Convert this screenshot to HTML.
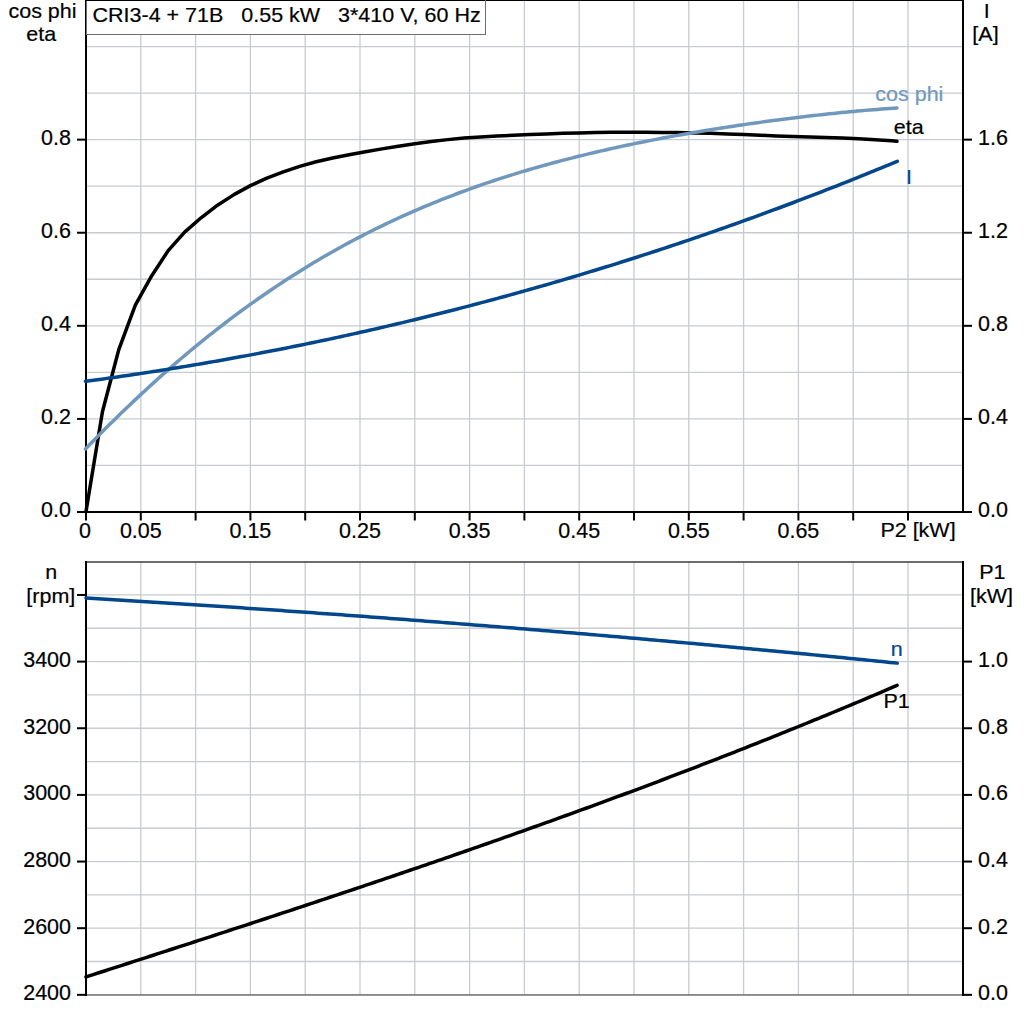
<!DOCTYPE html>
<html><head><meta charset="utf-8"><style>
html,body{margin:0;padding:0;background:#fff;width:1024px;height:1024px;overflow:hidden}
svg{display:block;font-family:"Liberation Sans",sans-serif}
</style></head><body>
<svg width="1024" height="1024" viewBox="0 0 1024 1024">
<rect x="0" y="0" width="1024" height="1024" fill="#fff"/>
<path d="M140.80 34V512 M195.60 34V512 M250.40 34V512 M305.20 34V512 M360.00 34V512 M414.80 34V512 M469.60 34V512 M524.40 0V512 M579.20 0V512 M634.00 0V512 M688.80 0V512 M743.60 0V512 M798.40 0V512 M853.20 0V512 M908.00 0V512 M86 465.45H963 M86 418.91H963 M86 372.37H963 M86 325.82H963 M86 279.27H963 M86 232.73H963 M86 186.19H963 M86 139.64H963 M86 93.09H963 M86 46.55H963 M140.80 562V995 M195.60 562V995 M250.40 562V995 M305.20 562V995 M360.00 562V995 M414.80 562V995 M469.60 562V995 M524.40 562V995 M579.20 562V995 M634.00 562V995 M688.80 562V995 M743.60 562V995 M798.40 562V995 M853.20 562V995 M908.00 562V995 M86 961.52H963 M86 928.20H963 M86 894.88H963 M86 861.55H963 M86 828.23H963 M86 794.90H963 M86 761.58H963 M86 728.25H963 M86 694.92H963 M86 661.60H963 M86 628.27H963 M86 594.95H963" stroke="#c8cbcf" stroke-width="1.3" fill="none"/>
<rect x="85" y="0" width="2" height="513" fill="#000"/>
<rect x="962" y="0" width="2" height="513" fill="#000"/>
<rect x="85" y="511" width="879" height="2" fill="#000"/>
<rect x="85" y="0" width="879" height="1" fill="#000"/>
<rect x="77" y="511.00" width="9" height="2" fill="#000"/><rect x="963" y="511.00" width="9" height="2" fill="#000"/><rect x="77" y="417.91" width="9" height="2" fill="#000"/><rect x="963" y="417.91" width="9" height="2" fill="#000"/><rect x="77" y="324.82" width="9" height="2" fill="#000"/><rect x="963" y="324.82" width="9" height="2" fill="#000"/><rect x="77" y="231.73" width="9" height="2" fill="#000"/><rect x="963" y="231.73" width="9" height="2" fill="#000"/><rect x="77" y="138.64" width="9" height="2" fill="#000"/><rect x="963" y="138.64" width="9" height="2" fill="#000"/><rect x="85.00" y="512" width="2" height="8.5" fill="#000"/><rect x="139.80" y="512" width="2" height="8.5" fill="#000"/><rect x="194.60" y="512" width="2" height="8.5" fill="#000"/><rect x="249.40" y="512" width="2" height="8.5" fill="#000"/><rect x="304.20" y="512" width="2" height="8.5" fill="#000"/><rect x="359.00" y="512" width="2" height="8.5" fill="#000"/><rect x="413.80" y="512" width="2" height="8.5" fill="#000"/><rect x="468.60" y="512" width="2" height="8.5" fill="#000"/><rect x="523.40" y="512" width="2" height="8.5" fill="#000"/><rect x="578.20" y="512" width="2" height="8.5" fill="#000"/><rect x="633.00" y="512" width="2" height="8.5" fill="#000"/><rect x="687.80" y="512" width="2" height="8.5" fill="#000"/><rect x="742.60" y="512" width="2" height="8.5" fill="#000"/><rect x="797.40" y="512" width="2" height="8.5" fill="#000"/><rect x="852.20" y="512" width="2" height="8.5" fill="#000"/><rect x="907.00" y="512" width="2" height="8.5" fill="#000"/>
<rect x="86.5" y="0.5" width="399" height="34" fill="#fff" stroke="#6e6e6e" stroke-width="1"/>
<rect x="85" y="0" width="400" height="1" fill="#000"/>
<rect x="85" y="561.2" width="879" height="1.6" fill="#4a4a4a"/>
<rect x="85" y="994.2" width="879" height="1.5" fill="#6c6c6c"/>
<rect x="85" y="561" width="2" height="435" fill="#000"/>
<rect x="962" y="561" width="2" height="435" fill="#000"/>
<rect x="77" y="993.85" width="9" height="2" fill="#000"/><rect x="77" y="927.20" width="9" height="2" fill="#000"/><rect x="77" y="860.55" width="9" height="2" fill="#000"/><rect x="77" y="793.90" width="9" height="2" fill="#000"/><rect x="77" y="727.25" width="9" height="2" fill="#000"/><rect x="77" y="660.60" width="9" height="2" fill="#000"/><rect x="77" y="593.95" width="9" height="2" fill="#000"/><rect x="963" y="993.85" width="9" height="2" fill="#000"/><rect x="963" y="927.20" width="9" height="2" fill="#000"/><rect x="963" y="860.55" width="9" height="2" fill="#000"/><rect x="963" y="793.90" width="9" height="2" fill="#000"/><rect x="963" y="727.25" width="9" height="2" fill="#000"/><rect x="963" y="660.60" width="9" height="2" fill="#000"/>
<polyline points="86.00,511.60 102.44,411.80 118.88,349.30 135.32,305.10 151.76,275.70 168.20,250.60 184.64,232.10 201.08,217.80 217.52,205.20 233.96,194.60 250.40,185.65 266.84,178.15 283.28,171.82 299.72,166.37 316.16,161.80 332.60,157.93 349.04,154.71 365.48,151.74 381.92,148.85 398.36,146.15 414.80,143.71 431.24,141.58 447.68,139.62 464.12,138.03 480.56,136.89 497.00,136.00 513.44,135.25 529.88,134.57 546.32,133.90 562.76,133.32 579.20,132.90 595.64,132.60 612.08,132.35 628.52,132.21 644.96,132.23 661.40,132.38 677.84,132.62 694.28,132.90 710.72,133.37 727.16,133.98 743.60,134.60 760.04,135.23 776.48,135.89 792.92,136.52 809.36,137.00 825.80,137.48 842.24,138.04 858.68,138.75 875.12,139.70 891.56,140.87 897.00,141.30" fill="none" stroke="#000" stroke-width="3.5" stroke-linejoin="round" stroke-linecap="round"/>
<polyline points="85.50,448.91 89.50,444.78 93.50,440.68 97.50,436.62 101.50,432.58 105.50,428.57 109.50,424.59 113.50,420.64 117.50,416.73 121.50,412.84 125.50,408.98 129.50,405.16 133.50,401.36 137.50,397.60 141.50,393.87 145.50,390.17 149.50,386.50 153.50,382.86 157.50,379.25 161.50,375.67 165.50,372.13 169.50,368.62 173.50,365.13 177.50,361.68 181.50,358.27 185.50,354.88 189.50,351.52 193.50,348.20 197.50,344.90 201.50,341.64 205.50,338.41 209.50,335.22 213.50,332.05 217.50,328.91 221.50,325.81 225.50,322.74 229.50,319.69 233.50,316.68 237.50,313.70 241.50,310.75 245.50,307.84 249.50,304.95 253.50,302.09 257.50,299.27 261.50,296.47 265.50,293.71 269.50,290.97 273.50,288.27 277.50,285.59 281.50,282.95 285.50,280.33 289.50,277.75 293.50,275.19 297.50,272.67 301.50,270.17 305.50,267.70 309.50,265.26 313.50,262.85 317.50,260.47 321.50,258.11 325.50,255.79 329.50,253.49 333.50,251.22 337.50,248.98 341.50,246.76 345.50,244.58 349.50,242.41 353.50,240.28 357.50,238.17 361.50,236.09 365.50,234.04 369.50,232.01 373.50,230.01 377.50,228.03 381.50,226.08 385.50,224.15 389.50,222.25 393.50,220.37 397.50,218.52 401.50,216.69 405.50,214.89 409.50,213.11 413.50,211.35 417.50,209.62 421.50,207.90 425.50,206.22 429.50,204.55 433.50,202.91 437.50,201.29 441.50,199.69 445.50,198.11 449.50,196.55 453.50,195.02 457.50,193.51 461.50,192.01 465.50,190.54 469.50,189.09 473.50,187.65 477.50,186.24 481.50,184.85 485.50,183.47 489.50,182.12 493.50,180.78 497.50,179.46 501.50,178.16 505.50,176.88 509.50,175.61 513.50,174.36 517.50,173.13 521.50,171.92 525.50,170.72 529.50,169.54 533.50,168.38 537.50,167.23 541.50,166.10 545.50,164.98 549.50,163.88 553.50,162.79 557.50,161.72 561.50,160.66 565.50,159.62 569.50,158.59 573.50,157.58 577.50,156.57 581.50,155.59 585.50,154.61 589.50,153.65 593.50,152.70 597.50,151.77 601.50,150.84 605.50,149.93 609.50,149.03 613.50,148.14 617.50,147.27 621.50,146.40 625.50,145.55 629.50,144.70 633.50,143.87 637.50,143.05 641.50,142.24 645.50,141.44 649.50,140.65 653.50,139.87 657.50,139.10 661.50,138.34 665.50,137.59 669.50,136.85 673.50,136.11 677.50,135.39 681.50,134.68 685.50,133.97 689.50,133.27 693.50,132.58 697.50,131.90 701.50,131.23 705.50,130.57 709.50,129.92 713.50,129.27 717.50,128.63 721.50,128.00 725.50,127.37 729.50,126.76 733.50,126.15 737.50,125.55 741.50,124.96 745.50,124.37 749.50,123.80 753.50,123.23 757.50,122.66 761.50,122.11 765.50,121.56 769.50,121.02 773.50,120.49 777.50,119.96 781.50,119.44 785.50,118.93 789.50,118.43 793.50,117.93 797.50,117.44 801.50,116.96 805.50,116.49 809.50,116.02 813.50,115.57 817.50,115.12 821.50,114.67 825.50,114.24 829.50,113.81 833.50,113.40 837.50,112.99 841.50,112.59 845.50,112.19 849.50,111.81 853.50,111.44 857.50,111.07 861.50,110.71 865.50,110.37 869.50,110.03 873.50,109.70 877.50,109.39 881.50,109.08 885.50,108.78 889.50,108.49 893.50,108.22 897.00,107.99" fill="none" stroke="#7098bd" stroke-width="3.5" stroke-linejoin="round" stroke-linecap="round"/>
<polyline points="85.50,381.34 89.50,380.80 93.50,380.26 97.50,379.71 101.50,379.16 105.50,378.61 109.50,378.04 113.50,377.48 117.50,376.90 121.50,376.33 125.50,375.74 129.50,375.16 133.50,374.56 137.50,373.97 141.50,373.36 145.50,372.75 149.50,372.14 153.50,371.52 157.50,370.90 161.50,370.27 165.50,369.63 169.50,369.00 173.50,368.35 177.50,367.70 181.50,367.05 185.50,366.38 189.50,365.72 193.50,365.05 197.50,364.37 201.50,363.69 205.50,363.00 209.50,362.31 213.50,361.62 217.50,360.91 221.50,360.20 225.50,359.49 229.50,358.77 233.50,358.05 237.50,357.32 241.50,356.59 245.50,355.85 249.50,355.10 253.50,354.35 257.50,353.60 261.50,352.84 265.50,352.07 269.50,351.30 273.50,350.52 277.50,349.74 281.50,348.95 285.50,348.16 289.50,347.36 293.50,346.56 297.50,345.75 301.50,344.94 305.50,344.12 309.50,343.29 313.50,342.46 317.50,341.63 321.50,340.79 325.50,339.94 329.50,339.09 333.50,338.23 337.50,337.37 341.50,336.50 345.50,335.63 349.50,334.75 353.50,333.86 357.50,332.97 361.50,332.08 365.50,331.18 369.50,330.27 373.50,329.36 377.50,328.45 381.50,327.52 385.50,326.60 389.50,325.66 393.50,324.72 397.50,323.78 401.50,322.83 405.50,321.87 409.50,320.91 413.50,319.95 417.50,318.98 421.50,318.00 425.50,317.02 429.50,316.03 433.50,315.04 437.50,314.04 441.50,313.03 445.50,312.02 449.50,311.01 453.50,309.99 457.50,308.96 461.50,307.93 465.50,306.89 469.50,305.85 473.50,304.80 477.50,303.74 481.50,302.68 485.50,301.62 489.50,300.55 493.50,299.47 497.50,298.39 501.50,297.30 505.50,296.21 509.50,295.11 513.50,294.00 517.50,292.89 521.50,291.78 525.50,290.65 529.50,289.53 533.50,288.39 537.50,287.26 541.50,286.11 545.50,284.96 549.50,283.81 553.50,282.65 557.50,281.48 561.50,280.31 565.50,279.13 569.50,277.95 573.50,276.76 577.50,275.56 581.50,274.36 585.50,273.16 589.50,271.94 593.50,270.73 597.50,269.50 601.50,268.27 605.50,267.04 609.50,265.80 613.50,264.55 617.50,263.30 621.50,262.04 625.50,260.78 629.50,259.51 633.50,258.24 637.50,256.96 641.50,255.67 645.50,254.38 649.50,253.08 653.50,251.78 657.50,250.47 661.50,249.15 665.50,247.83 669.50,246.51 673.50,245.17 677.50,243.84 681.50,242.49 685.50,241.14 689.50,239.79 693.50,238.43 697.50,237.06 701.50,235.69 705.50,234.31 709.50,232.92 713.50,231.53 717.50,230.14 721.50,228.73 725.50,227.33 729.50,225.91 733.50,224.49 737.50,223.07 741.50,221.64 745.50,220.20 749.50,218.76 753.50,217.31 757.50,215.85 761.50,214.39 765.50,212.93 769.50,211.45 773.50,209.97 777.50,208.49 781.50,207.00 785.50,205.50 789.50,204.00 793.50,202.50 797.50,200.98 801.50,199.46 805.50,197.94 809.50,196.40 813.50,194.87 817.50,193.32 821.50,191.77 825.50,190.22 829.50,188.66 833.50,187.09 837.50,185.52 841.50,183.94 845.50,182.35 849.50,180.76 853.50,179.17 857.50,177.56 861.50,175.95 865.50,174.34 869.50,172.72 873.50,171.09 877.50,169.46 881.50,167.82 885.50,166.17 889.50,164.52 893.50,162.87 897.30,161.29" fill="none" stroke="#02468c" stroke-width="3.5" stroke-linejoin="round" stroke-linecap="round"/>
<polyline points="86.00,598.00 90.00,598.24 94.00,598.48 98.00,598.72 102.00,598.96 106.00,599.20 110.00,599.44 114.00,599.68 118.00,599.93 122.00,600.17 126.00,600.41 130.00,600.66 134.00,600.91 138.00,601.15 142.00,601.40 146.00,601.65 150.00,601.90 154.00,602.15 158.00,602.40 162.00,602.65 166.00,602.91 170.00,603.16 174.00,603.42 178.00,603.67 182.00,603.93 186.00,604.19 190.00,604.44 194.00,604.70 198.00,604.96 202.00,605.22 206.00,605.48 210.00,605.75 214.00,606.01 218.00,606.27 222.00,606.54 226.00,606.80 230.00,607.07 234.00,607.34 238.00,607.61 242.00,607.87 246.00,608.14 250.00,608.42 254.00,608.69 258.00,608.96 262.00,609.23 266.00,609.51 270.00,609.78 274.00,610.06 278.00,610.33 282.00,610.61 286.00,610.89 290.00,611.17 294.00,611.45 298.00,611.73 302.00,612.01 306.00,612.29 310.00,612.57 314.00,612.86 318.00,613.14 322.00,613.43 326.00,613.71 330.00,614.00 334.00,614.29 338.00,614.58 342.00,614.87 346.00,615.16 350.00,615.45 354.00,615.74 358.00,616.03 362.00,616.33 366.00,616.62 370.00,616.92 374.00,617.21 378.00,617.51 382.00,617.81 386.00,618.11 390.00,618.41 394.00,618.71 398.00,619.01 402.00,619.31 406.00,619.61 410.00,619.92 414.00,620.22 418.00,620.53 422.00,620.83 426.00,621.14 430.00,621.45 434.00,621.76 438.00,622.07 442.00,622.38 446.00,622.69 450.00,623.00 454.00,623.31 458.00,623.63 462.00,623.94 466.00,624.26 470.00,624.57 474.00,624.89 478.00,625.21 482.00,625.53 486.00,625.85 490.00,626.17 494.00,626.49 498.00,626.81 502.00,627.13 506.00,627.46 510.00,627.78 514.00,628.11 518.00,628.43 522.00,628.76 526.00,629.09 530.00,629.42 534.00,629.74 538.00,630.07 542.00,630.41 546.00,630.74 550.00,631.07 554.00,631.40 558.00,631.74 562.00,632.07 566.00,632.41 570.00,632.75 574.00,633.08 578.00,633.42 582.00,633.76 586.00,634.10 590.00,634.44 594.00,634.79 598.00,635.13 602.00,635.47 606.00,635.82 610.00,636.16 614.00,636.51 618.00,636.85 622.00,637.20 626.00,637.55 630.00,637.90 634.00,638.25 638.00,638.60 642.00,638.95 646.00,639.31 650.00,639.66 654.00,640.01 658.00,640.37 662.00,640.73 666.00,641.08 670.00,641.44 674.00,641.80 678.00,642.16 682.00,642.52 686.00,642.88 690.00,643.24 694.00,643.60 698.00,643.97 702.00,644.33 706.00,644.70 710.00,645.06 714.00,645.43 718.00,645.80 722.00,646.17 726.00,646.53 730.00,646.90 734.00,647.28 738.00,647.65 742.00,648.02 746.00,648.39 750.00,648.77 754.00,649.14 758.00,649.52 762.00,649.90 766.00,650.27 770.00,650.65 774.00,651.03 778.00,651.41 782.00,651.79 786.00,652.17 790.00,652.56 794.00,652.94 798.00,653.32 802.00,653.71 806.00,654.09 810.00,654.48 814.00,654.87 818.00,655.26 822.00,655.65 826.00,656.04 830.00,656.43 834.00,656.82 838.00,657.21 842.00,657.60 846.00,658.00 850.00,658.39 854.00,658.79 858.00,659.19 862.00,659.58 866.00,659.98 870.00,660.38 874.00,660.78 878.00,661.18 882.00,661.58 886.00,661.99 890.00,662.39 894.00,662.79 897.25,663.12" fill="none" stroke="#02468c" stroke-width="3.5" stroke-linejoin="round" stroke-linecap="round"/>
<polyline points="86.00,976.90 90.00,975.61 94.00,974.33 98.00,973.04 102.00,971.75 106.00,970.46 110.00,969.17 114.00,967.88 118.00,966.59 122.00,965.30 126.00,964.01 130.00,962.72 134.00,961.43 138.00,960.14 142.00,958.85 146.00,957.55 150.00,956.26 154.00,954.97 158.00,953.67 162.00,952.38 166.00,951.08 170.00,949.79 174.00,948.49 178.00,947.19 182.00,945.90 186.00,944.60 190.00,943.30 194.00,942.00 198.00,940.70 202.00,939.40 206.00,938.10 210.00,936.79 214.00,935.49 218.00,934.19 222.00,932.88 226.00,931.58 230.00,930.27 234.00,928.96 238.00,927.65 242.00,926.35 246.00,925.04 250.00,923.72 254.00,922.41 258.00,921.10 262.00,919.78 266.00,918.47 270.00,917.15 274.00,915.84 278.00,914.52 282.00,913.20 286.00,911.88 290.00,910.56 294.00,909.23 298.00,907.91 302.00,906.58 306.00,905.26 310.00,903.93 314.00,902.60 318.00,901.27 322.00,899.94 326.00,898.61 330.00,897.27 334.00,895.94 338.00,894.60 342.00,893.26 346.00,891.92 350.00,890.58 354.00,889.24 358.00,887.89 362.00,886.55 366.00,885.20 370.00,883.85 374.00,882.50 378.00,881.15 382.00,879.80 386.00,878.44 390.00,877.09 394.00,875.73 398.00,874.37 402.00,873.01 406.00,871.65 410.00,870.28 414.00,868.91 418.00,867.55 422.00,866.18 426.00,864.80 430.00,863.43 434.00,862.05 438.00,860.68 442.00,859.30 446.00,857.92 450.00,856.53 454.00,855.15 458.00,853.76 462.00,852.37 466.00,850.98 470.00,849.59 474.00,848.19 478.00,846.80 482.00,845.40 486.00,844.00 490.00,842.59 494.00,841.19 498.00,839.78 502.00,838.37 506.00,836.96 510.00,835.55 514.00,834.13 518.00,832.71 522.00,831.29 526.00,829.87 530.00,828.44 534.00,827.02 538.00,825.59 542.00,824.15 546.00,822.72 550.00,821.28 554.00,819.84 558.00,818.40 562.00,816.96 566.00,815.51 570.00,814.06 574.00,812.61 578.00,811.16 582.00,809.70 586.00,808.24 590.00,806.78 594.00,805.32 598.00,803.85 602.00,802.38 606.00,800.91 610.00,799.43 614.00,797.95 618.00,796.47 622.00,794.99 626.00,793.51 630.00,792.02 634.00,790.53 638.00,789.03 642.00,787.54 646.00,786.04 650.00,784.53 654.00,783.03 658.00,781.52 662.00,780.01 666.00,778.49 670.00,776.98 674.00,775.46 678.00,773.93 682.00,772.41 686.00,770.88 690.00,769.35 694.00,767.81 698.00,766.27 702.00,764.73 706.00,763.19 710.00,761.64 714.00,760.09 718.00,758.53 722.00,756.98 726.00,755.42 730.00,753.85 734.00,752.29 738.00,750.72 742.00,749.14 746.00,747.56 750.00,745.98 754.00,744.40 758.00,742.81 762.00,741.22 766.00,739.63 770.00,738.03 774.00,736.43 778.00,734.83 782.00,733.22 786.00,731.61 790.00,729.99 794.00,728.38 798.00,726.75 802.00,725.13 806.00,723.50 810.00,721.87 814.00,720.23 818.00,718.59 822.00,716.95 826.00,715.30 830.00,713.65 834.00,712.00 838.00,710.34 842.00,708.68 846.00,707.01 850.00,705.34 854.00,703.67 858.00,701.99 862.00,700.31 866.00,698.62 870.00,696.93 874.00,695.24 878.00,693.54 882.00,691.84 886.00,690.14 890.00,688.43 894.00,686.72 897.10,685.38" fill="none" stroke="#000" stroke-width="3.5" stroke-linejoin="round" stroke-linecap="round"/>
<text transform="translate(42.5 17.8) scale(1.0488 1)" text-anchor="middle" fill="#000" stroke="#000" stroke-width="0.2" font-size="20.5" xml:space="preserve">cos phi</text>
<text transform="translate(41.2 40.8) scale(1.0488 1)" text-anchor="middle" fill="#000" stroke="#000" stroke-width="0.2" font-size="20.5" xml:space="preserve">eta</text>
<text transform="translate(92.5 21.6) scale(1.0238 1)" text-anchor="start" fill="#000" stroke="#000" stroke-width="0.2" font-size="21.0" xml:space="preserve">CRI3-4 + 71B   0.55 kW   3*410 V, 60 Hz</text>
<text transform="translate(986.8 17.6) scale(1.0238 1)" text-anchor="middle" fill="#000" stroke="#000" stroke-width="0.2" font-size="21.0" xml:space="preserve">I</text>
<text transform="translate(985.5 41.4) scale(1.0238 1)" text-anchor="middle" fill="#000" stroke="#000" stroke-width="0.2" font-size="21.0" xml:space="preserve">[A]</text>
<text transform="translate(71 517.4) scale(1.0094 1)" text-anchor="end" fill="#000" stroke="#000" stroke-width="0.2" font-size="21.3" xml:space="preserve">0.0</text>
<text transform="translate(71 424.30999999999995) scale(1.0094 1)" text-anchor="end" fill="#000" stroke="#000" stroke-width="0.2" font-size="21.3" xml:space="preserve">0.2</text>
<text transform="translate(71 331.21999999999997) scale(1.0094 1)" text-anchor="end" fill="#000" stroke="#000" stroke-width="0.2" font-size="21.3" xml:space="preserve">0.4</text>
<text transform="translate(71 238.13000000000002) scale(1.0094 1)" text-anchor="end" fill="#000" stroke="#000" stroke-width="0.2" font-size="21.3" xml:space="preserve">0.6</text>
<text transform="translate(71 145.04) scale(1.0094 1)" text-anchor="end" fill="#000" stroke="#000" stroke-width="0.2" font-size="21.3" xml:space="preserve">0.8</text>
<text transform="translate(978 517.4) scale(1.0094 1)" text-anchor="start" fill="#000" stroke="#000" stroke-width="0.2" font-size="21.3" xml:space="preserve">0.0</text>
<text transform="translate(978 424.30999999999995) scale(1.0094 1)" text-anchor="start" fill="#000" stroke="#000" stroke-width="0.2" font-size="21.3" xml:space="preserve">0.4</text>
<text transform="translate(978 331.21999999999997) scale(1.0094 1)" text-anchor="start" fill="#000" stroke="#000" stroke-width="0.2" font-size="21.3" xml:space="preserve">0.8</text>
<text transform="translate(978 238.13000000000002) scale(1.0094 1)" text-anchor="start" fill="#000" stroke="#000" stroke-width="0.2" font-size="21.3" xml:space="preserve">1.2</text>
<text transform="translate(978 145.04) scale(1.0094 1)" text-anchor="start" fill="#000" stroke="#000" stroke-width="0.2" font-size="21.3" xml:space="preserve">1.6</text>
<text transform="translate(85.0 537.6) scale(1.0094 1)" text-anchor="middle" fill="#000" stroke="#000" stroke-width="0.2" font-size="21.3" xml:space="preserve">0</text>
<text transform="translate(140.8 537.6) scale(1.0094 1)" text-anchor="middle" fill="#000" stroke="#000" stroke-width="0.2" font-size="21.3" xml:space="preserve">0.05</text>
<text transform="translate(250.4 537.6) scale(1.0094 1)" text-anchor="middle" fill="#000" stroke="#000" stroke-width="0.2" font-size="21.3" xml:space="preserve">0.15</text>
<text transform="translate(360.0 537.6) scale(1.0094 1)" text-anchor="middle" fill="#000" stroke="#000" stroke-width="0.2" font-size="21.3" xml:space="preserve">0.25</text>
<text transform="translate(469.6 537.6) scale(1.0094 1)" text-anchor="middle" fill="#000" stroke="#000" stroke-width="0.2" font-size="21.3" xml:space="preserve">0.35</text>
<text transform="translate(579.2 537.6) scale(1.0094 1)" text-anchor="middle" fill="#000" stroke="#000" stroke-width="0.2" font-size="21.3" xml:space="preserve">0.45</text>
<text transform="translate(688.8 537.6) scale(1.0094 1)" text-anchor="middle" fill="#000" stroke="#000" stroke-width="0.2" font-size="21.3" xml:space="preserve">0.55</text>
<text transform="translate(798.4 537.6) scale(1.0094 1)" text-anchor="middle" fill="#000" stroke="#000" stroke-width="0.2" font-size="21.3" xml:space="preserve">0.65</text>
<text transform="translate(918 537.4) scale(1.0238 1)" text-anchor="middle" fill="#000" stroke="#000" stroke-width="0.2" font-size="21.0" xml:space="preserve">P2 [kW]</text>
<text transform="translate(909.3 101.3) scale(1.0488 1)" text-anchor="middle" fill="#7098bd" stroke="#7098bd" stroke-width="0.2" font-size="20.5" xml:space="preserve">cos phi</text>
<text transform="translate(908.7 133.6) scale(1.0488 1)" text-anchor="middle" fill="#000" stroke="#000" stroke-width="0.2" font-size="20.5" xml:space="preserve">eta</text>
<text transform="translate(909 183.75) scale(1.0238 1)" text-anchor="middle" fill="#02468c" stroke="#02468c" stroke-width="0.2" font-size="21.0" xml:space="preserve">I</text>
<text transform="translate(51.2 578.6) scale(1.0488 1)" text-anchor="middle" fill="#000" stroke="#000" stroke-width="0.2" font-size="20.5" xml:space="preserve">n</text>
<text transform="translate(50.8 602.5) scale(1.0488 1)" text-anchor="middle" fill="#000" stroke="#000" stroke-width="0.2" font-size="20.5" xml:space="preserve">[rpm]</text>
<text transform="translate(979.2 578.75) scale(1.0238 1)" text-anchor="start" fill="#000" stroke="#000" stroke-width="0.2" font-size="21.0" xml:space="preserve">P1</text>
<text transform="translate(991.6 602.8) scale(1.0238 1)" text-anchor="middle" fill="#000" stroke="#000" stroke-width="0.2" font-size="21.0" xml:space="preserve">[kW]</text>
<text transform="translate(71 1000.25) scale(1.0094 1)" text-anchor="end" fill="#000" stroke="#000" stroke-width="0.2" font-size="21.3" xml:space="preserve">2400</text>
<text transform="translate(71 933.6) scale(1.0094 1)" text-anchor="end" fill="#000" stroke="#000" stroke-width="0.2" font-size="21.3" xml:space="preserve">2600</text>
<text transform="translate(71 866.9499999999999) scale(1.0094 1)" text-anchor="end" fill="#000" stroke="#000" stroke-width="0.2" font-size="21.3" xml:space="preserve">2800</text>
<text transform="translate(71 800.3) scale(1.0094 1)" text-anchor="end" fill="#000" stroke="#000" stroke-width="0.2" font-size="21.3" xml:space="preserve">3000</text>
<text transform="translate(71 733.65) scale(1.0094 1)" text-anchor="end" fill="#000" stroke="#000" stroke-width="0.2" font-size="21.3" xml:space="preserve">3200</text>
<text transform="translate(71 667.0) scale(1.0094 1)" text-anchor="end" fill="#000" stroke="#000" stroke-width="0.2" font-size="21.3" xml:space="preserve">3400</text>
<text transform="translate(978 1000.25) scale(1.0094 1)" text-anchor="start" fill="#000" stroke="#000" stroke-width="0.2" font-size="21.3" xml:space="preserve">0.0</text>
<text transform="translate(978 933.6) scale(1.0094 1)" text-anchor="start" fill="#000" stroke="#000" stroke-width="0.2" font-size="21.3" xml:space="preserve">0.2</text>
<text transform="translate(978 866.9499999999999) scale(1.0094 1)" text-anchor="start" fill="#000" stroke="#000" stroke-width="0.2" font-size="21.3" xml:space="preserve">0.4</text>
<text transform="translate(978 800.3) scale(1.0094 1)" text-anchor="start" fill="#000" stroke="#000" stroke-width="0.2" font-size="21.3" xml:space="preserve">0.6</text>
<text transform="translate(978 733.65) scale(1.0094 1)" text-anchor="start" fill="#000" stroke="#000" stroke-width="0.2" font-size="21.3" xml:space="preserve">0.8</text>
<text transform="translate(978 667.0) scale(1.0094 1)" text-anchor="start" fill="#000" stroke="#000" stroke-width="0.2" font-size="21.3" xml:space="preserve">1.0</text>
<text transform="translate(896.7 655.9) scale(1.0488 1)" text-anchor="middle" fill="#02468c" stroke="#02468c" stroke-width="0.2" font-size="20.5" xml:space="preserve">n</text>
<text transform="translate(883.5 707.9) scale(1.0238 1)" text-anchor="start" fill="#000" stroke="#000" stroke-width="0.2" font-size="21.0" xml:space="preserve">P1</text>
</svg>
</body></html>
